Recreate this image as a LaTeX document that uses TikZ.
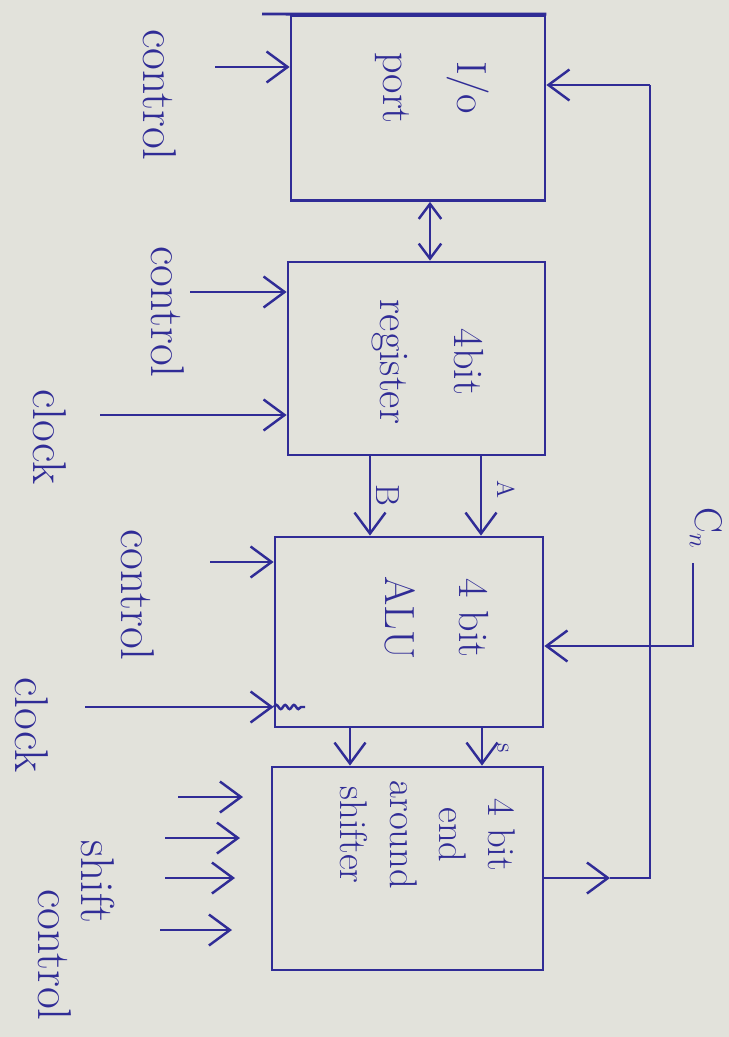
\documentclass[tikz,border=0pt]{standalone}
\usetikzlibrary{arrows.meta,calc,decorations.pathmorphing}
\definecolor{ink}{RGB}{48,44,150}
\definecolor{paper}{RGB}{226,226,219}
\begin{document}
\begin{tikzpicture}[x=0.02cm,y=-0.02cm,
  wire/.style={draw=ink,line width=1.4pt},
  blk/.style={draw=ink,line width=1.6pt,rectangle,inner sep=0pt},
  arr/.style={wire,-{Straight Barb[length=0.42cm,width=0.62cm]}},
  darr/.style={wire,{Straight Barb[length=0.3cm,width=0.45cm]}-{Straight Barb[length=0.3cm,width=0.45cm]}},
  lbl/.style={text=ink,rotate=-90,align=center,inner sep=0pt,font=\fontsize{27}{30}\selectfont},
  btxt/.style={text=ink,rotate=-90,align=center,inner sep=0pt,font=\fontsize{24}{42}\selectfont},
  small/.style={text=ink,rotate=-90,inner sep=0pt,font=\fontsize{16}{18}\selectfont},
]
\fill[paper] (0,0) rectangle (729,1037);
\useasboundingbox (0,0) rectangle (729,1037);

% blocks
\node[blk,minimum width=5.08cm,minimum height=3.7cm] (io) at (418,108) {};
\node[blk,minimum width=5.14cm,minimum height=3.86cm] (reg) at (416.5,358.5) {};
\node[blk,minimum width=5.36cm,minimum height=3.8cm] (alu) at (409,632) {};
\node[blk,minimum width=5.42cm,minimum height=4.06cm] (sh) at (407.5,868.5) {};

% block texts
\node[btxt] (tio) at (432,88) {I/o\\port};
\node[btxt] (treg) at (428,362) {4bit\\register};
\node[btxt] (talu) at (437,618) {4 bit\\ALU};
\node[btxt,font=\fontsize{22}{28}\selectfont] (tsh) at (428,835) {4 bit\\end\\around\\shifter};

% top line of I/O extended left
\coordinate (topl) at (262,14);
\draw[wire,line width=1.6pt] (io.north east) -- (io.north west) -- (topl);

% I/O control
\coordinate (c1) at (215,67);
\draw[arr] (c1) -- (c1 -| io.west);
\node[lbl] (l1) at (160,95) {control};

% I/O <-> register
\coordinate (k1) at (430,0);
\draw[darr] (io.south -| k1) -- (reg.north -| k1);

% register control and clock
\coordinate (c2) at (190,292);
\draw[arr] (c2) -- (c2 -| reg.west);
\node[lbl] (l2) at (168,312) {control};
\coordinate (c3) at (100,415);
\draw[arr] (c3) -- (c3 -| reg.west);
\node[lbl] (l3) at (50,437) {clock};

% register -> ALU (B and A)
\coordinate (kb) at (370,0);
\coordinate (ka) at (481,0);
\draw[arr] (reg.south -| kb) -- (alu.north -| kb);
\draw[arr] (reg.south -| ka) -- (alu.north -| ka);
\node[small,font=\fontsize{19}{21}\selectfont] (lb) at (388,495) {B};
\node[small,font=\fontsize{14}{16}\selectfont] (la) at (506,490) {A};

% ALU control and clock
\coordinate (c4) at (210,562);
\draw[arr] (c4) -- (c4 -| alu.west);
\node[lbl] (l4) at (138,595) {control};
\coordinate (c5) at (85,707);
\draw[arr] (c5) -- (c5 -| alu.west);
\node[lbl] (l5) at (32,725) {clock};
\coordinate (sq1) at (alu.west |- c5);
\coordinate (sq2) at (305,707);
\draw[wire,decorate,decoration={snake,amplitude=1.2pt,segment length=5pt}] (sq1) -- (sq2);

% Cn input
\coordinate (cn1) at (693,563);
\coordinate (cn2) at (693,646);
\draw[arr] (cn1) -- (cn2) -- (cn2 -| alu.east);
\node[small,font=\fontsize{22}{24}\selectfont] (lcn) at (706,528) {C$_n$};

% ALU -> shifter
\coordinate (k2) at (350,0);
\coordinate (k3) at (482,0);
\draw[arr] (alu.south -| k2) -- (sh.north -| k2);
\draw[arr] (alu.south -| k3) -- (sh.north -| k3);
\node[small,font=\fontsize{14}{16}\selectfont] (ls) at (503,748) {s};

% shift control arrows
\coordinate (s1a) at (178,797); \coordinate (s1b) at (243,797);
\coordinate (s2a) at (165,838); \coordinate (s2b) at (240,838);
\coordinate (s3a) at (165,878); \coordinate (s3b) at (235,878);
\coordinate (s4a) at (160,930); \coordinate (s4b) at (232,930);
\draw[arr] (s1a) -- (s1b);
\draw[arr] (s2a) -- (s2b);
\draw[arr] (s3a) -- (s3b);
\draw[arr] (s4a) -- (s4b);
\node[lbl] (l6) at (98,882) {shift};
\node[lbl] (l7) at (55,955) {control};

% feedback shifter -> I/O
\coordinate (f0) at (sh.east |- 0,878);
\coordinate (f1) at (610,878);
\coordinate (f2) at (650,878);
\coordinate (f3) at (650,85);
\draw[arr] (f0) -- (f1);
\draw[wire] (f1) -- (f2) -- (f3);
\draw[arr] (f3) -- (f3 -| io.east);
\end{tikzpicture}
\end{document}
